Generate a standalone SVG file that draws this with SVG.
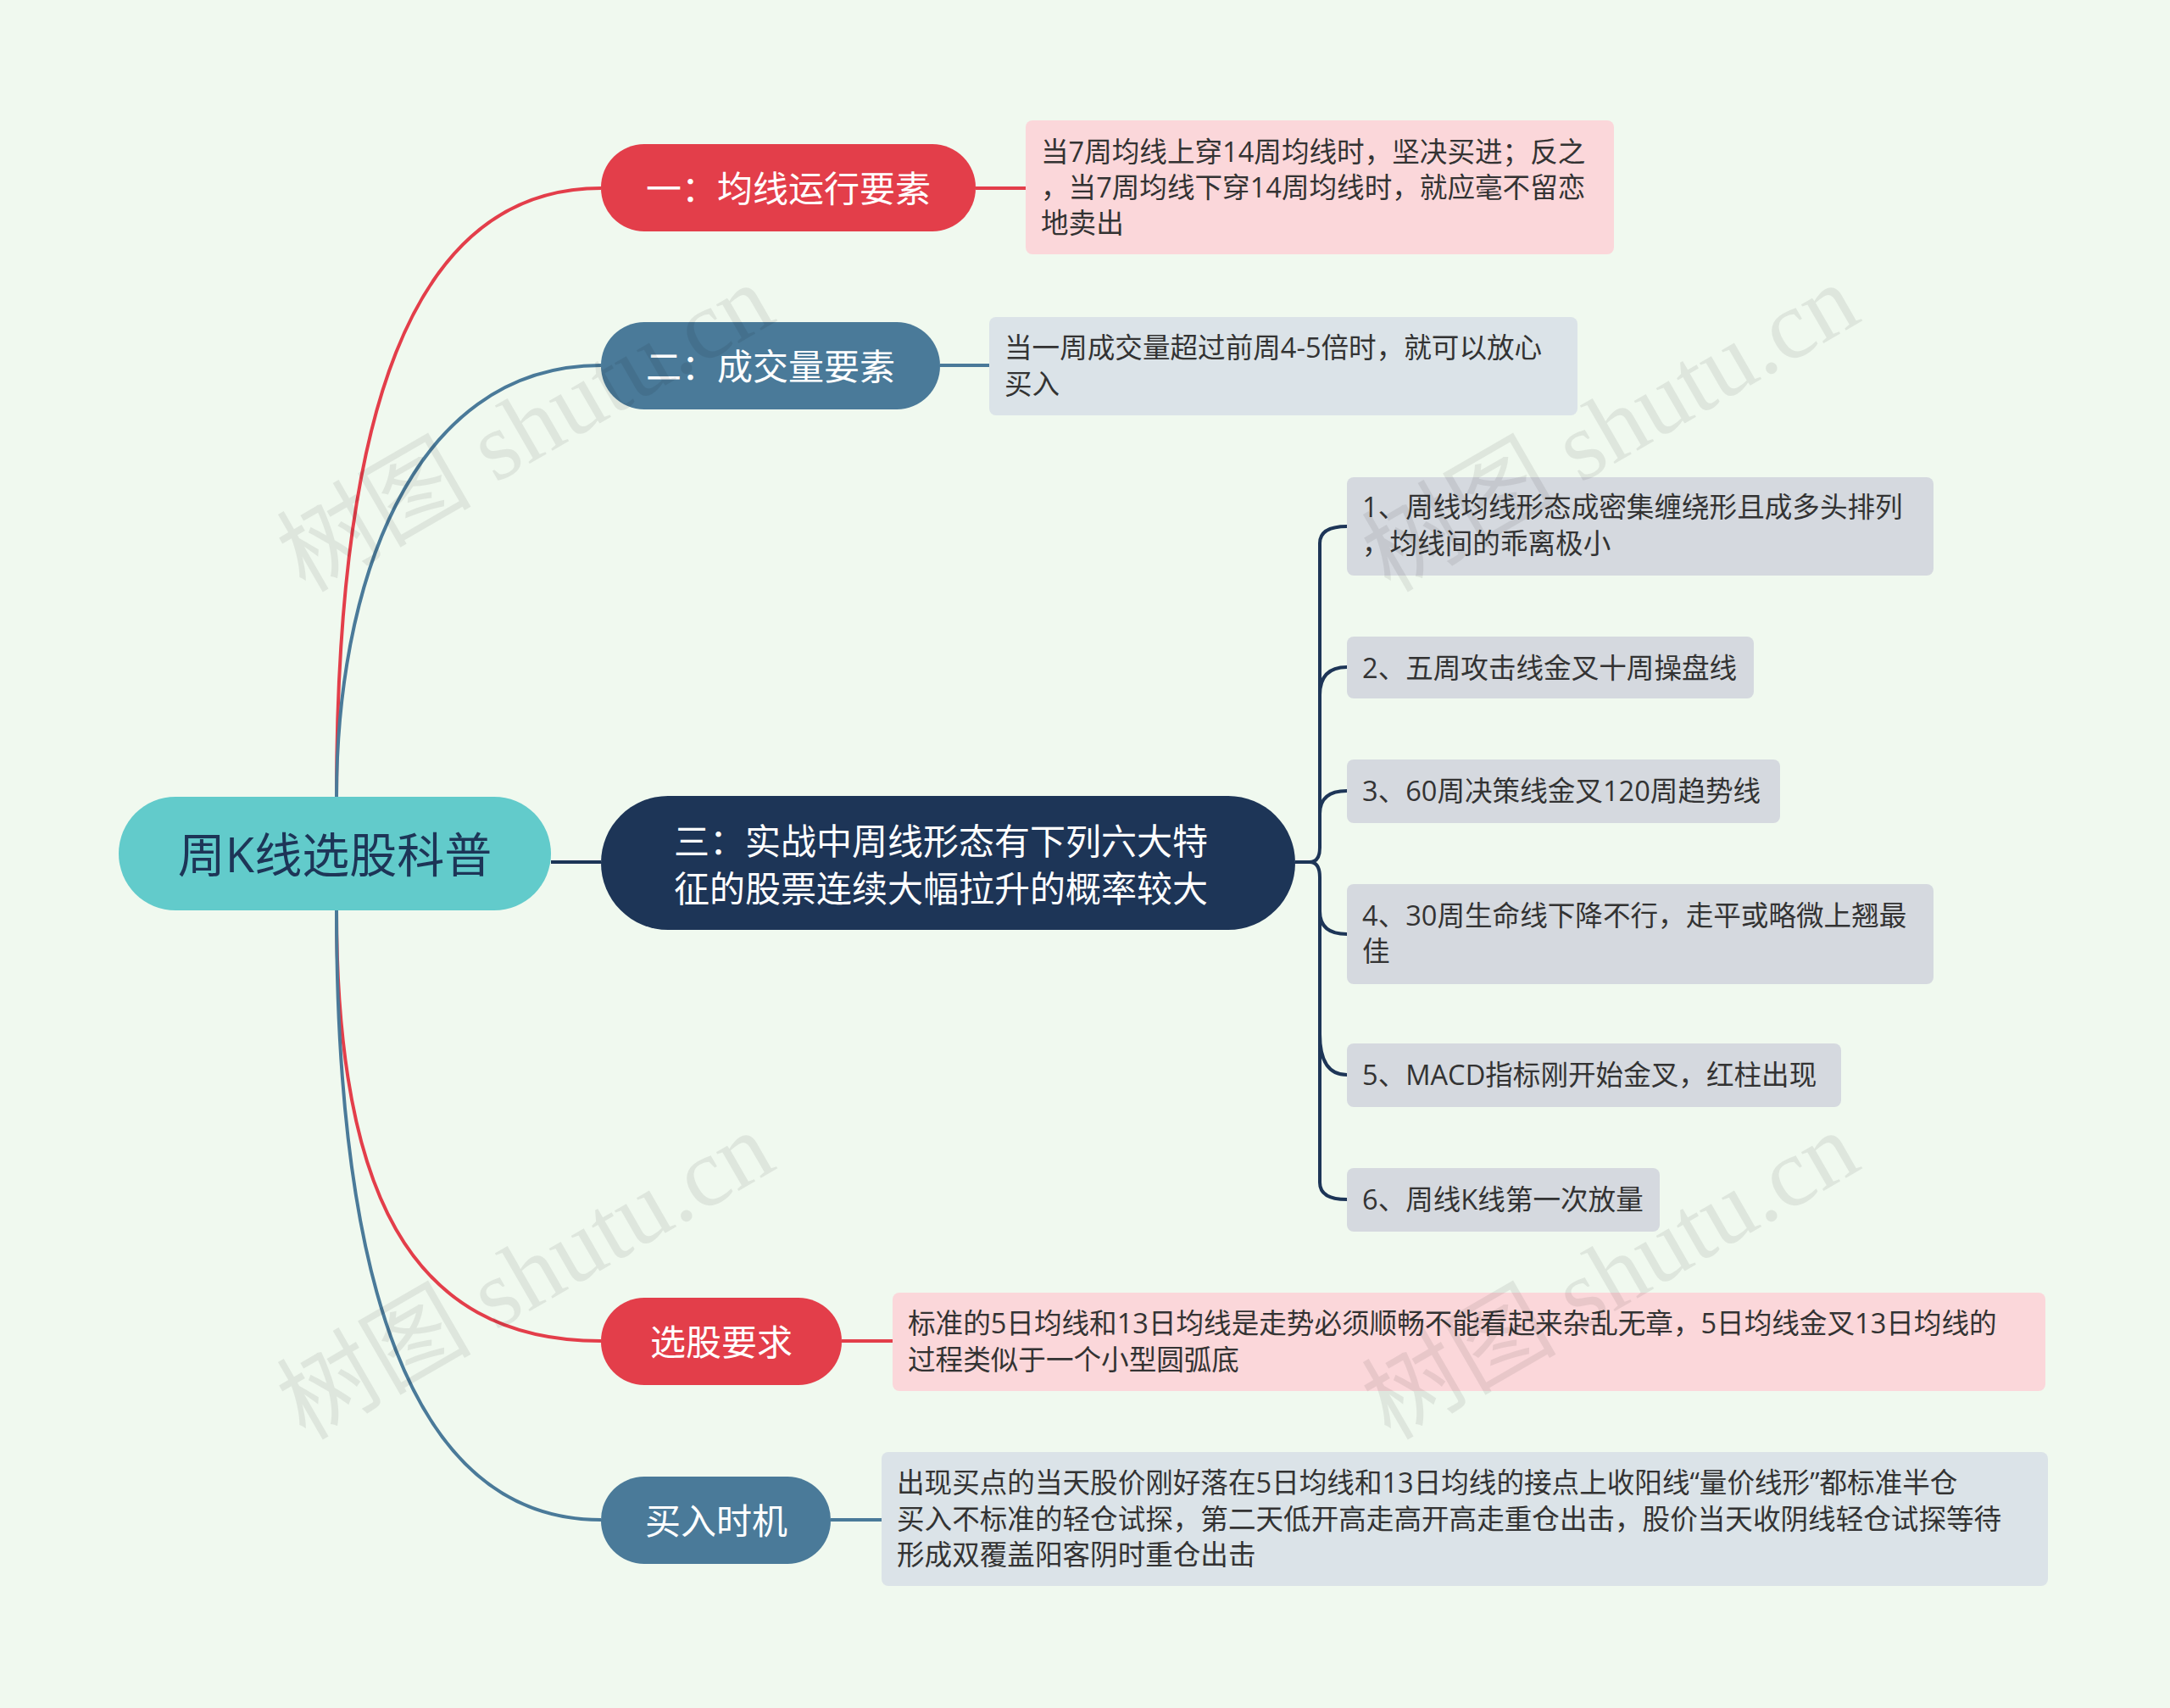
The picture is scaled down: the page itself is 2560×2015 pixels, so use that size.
<svg xmlns="http://www.w3.org/2000/svg" width="2560" height="2015" viewBox="0 0 2560 2015">
<style>
text{font-family:"Open Sans","Noto Sans CJK SC",sans-serif}
.b{font-size:42px;fill:#fff;text-anchor:middle;dominant-baseline:central}
.l{font-size:32.6px;fill:#333}
.wm{font-family:"Liberation Serif","Noto Sans CJK SC",serif;font-size:115px;fill:#000;opacity:0.07}
.c{fill:none;stroke-width:4}
</style>
<rect width="2560" height="2015" fill="#f0f9ef"/>
<g id="connectors">
<path class="c" stroke="#e33e4a" d="M397 940 C397 500 480 222 709 222"/>
<path class="c" stroke="#4a7a99" d="M397 940 C397 700 480 431 709 431"/>
<path class="c" stroke="#1d3557" d="M650 1017 H709"/>
<path class="c" stroke="#e33e4a" d="M397 1074 C397 1400 480 1582 709 1582"/>
<path class="c" stroke="#4a7a99" d="M397 1074 C397 1500 480 1793 709 1793"/>
<path class="c" stroke="#e33e4a" d="M1151 222 H1210"/>
<path class="c" stroke="#4a7a99" d="M1109 431 H1167"/>
<path class="c" stroke="#e33e4a" d="M993 1582 H1053"/>
<path class="c" stroke="#4a7a99" d="M980 1793 H1040"/>
<g class="c" stroke="#1d3557">
<path d="M1528 1017 H1545 Q1557 1017 1557 1000 V641 Q1557 621 1589 621"/>
<path d="M1557 820 Q1557 787 1589 787"/>
<path d="M1557 960 Q1557 933 1589 933"/>
<path d="M1545 1017 Q1557 1017 1557 1035 V1395 Q1557 1415 1589 1415"/>
<path d="M1557 1075 Q1557 1102 1589 1102"/>
<path d="M1557 1220 Q1557 1268 1589 1268"/>
</g>
</g>
<g id="root"><rect x="140" y="940" width="510" height="134" rx="67" fill="#62cbcb"/><text x="395" y="1007" font-size="56" fill="#1d3557" text-anchor="middle" dominant-baseline="central">周K线选股科普</text></g>
<g id="b1"><rect x="709" y="170" width="442" height="103" rx="51" fill="#e33e4a"/><text class="b" x="930" y="221">一：均线运行要素</text></g>
<g id="l1"><rect x="1210" y="142" width="694" height="158" rx="8" fill="#fbd7da"/><text class="l" x="1228" y="191">当7周均线上穿14周均线时，坚决买进；反之</text><text class="l" x="1228" y="233">，当7周均线下穿14周均线时，就应毫不留恋</text><text class="l" x="1228" y="275">地卖出</text></g>
<g id="b2"><rect x="709" y="380" width="400" height="103" rx="51" fill="#4a7a99"/><text class="b" x="909" y="431">二：成交量要素</text></g>
<g id="l2"><rect x="1167" y="374" width="694" height="116" rx="8" fill="#dbe3e8"/><text class="l" x="1185" y="422">当一周成交量超过前周4-5倍时，就可以放心</text><text class="l" x="1185" y="465">买入</text></g>
<g id="b3"><rect x="709" y="939" width="819" height="158" rx="79" fill="#1d3557"/><text class="b" x="1110" y="991">三：实战中周线形态有下列六大特</text><text class="b" x="1110" y="1047">征的股票连续大幅拉升的概率较大</text></g>
<g id="s1"><rect x="1589" y="563" width="692" height="116" rx="8" fill="#d5d9df"/><text class="l" x="1607" y="610">1、周线均线形态成密集缠绕形且成多头排列</text><text class="l" x="1607" y="653">，均线间的乖离极小</text></g>
<g id="s2"><rect x="1589" y="751" width="480" height="73" rx="8" fill="#d5d9df"/><text class="l" x="1607" y="800">2、五周攻击线金叉十周操盘线</text></g>
<g id="s3"><rect x="1589" y="896" width="511" height="75" rx="8" fill="#d5d9df"/><text class="l" x="1607" y="945">3、60周决策线金叉120周趋势线</text></g>
<g id="s4"><rect x="1589" y="1043" width="692" height="118" rx="8" fill="#d5d9df"/><text class="l" x="1607" y="1092">4、30周生命线下降不行，走平或略微上翘最</text><text class="l" x="1607" y="1134">佳</text></g>
<g id="s5"><rect x="1589" y="1231" width="583" height="75" rx="8" fill="#d5d9df"/><text class="l" x="1607" y="1280">5、MACD指标刚开始金叉，红柱出现</text></g>
<g id="s6"><rect x="1589" y="1378" width="369" height="75" rx="8" fill="#d5d9df"/><text class="l" x="1607" y="1427">6、周线K线第一次放量</text></g>
<g id="b4"><rect x="709" y="1531" width="284" height="103" rx="51" fill="#e33e4a"/><text class="b" x="851" y="1582">选股要求</text></g>
<g id="l4"><rect x="1053" y="1525" width="1360" height="116" rx="8" fill="#fbd7da"/><text class="l" x="1071" y="1573">标准的5日均线和13日均线是走势必须顺畅不能看起来杂乱无章，5日均线金叉13日均线的</text><text class="l" x="1071" y="1616">过程类似于一个小型圆弧底</text></g>
<g id="b5"><rect x="709" y="1742" width="271" height="103" rx="51" fill="#4a7a99"/><text class="b" x="845" y="1793">买入时机</text></g>
<g id="l5"><rect x="1040" y="1713" width="1376" height="158" rx="8" fill="#dbe3e8"/><text class="l" x="1058" y="1761">出现买点的当天股价刚好落在5日均线和13日均线的接点上收阳线“量价线形”都标准半仓</text><text class="l" x="1058" y="1804">买入不标准的轻仓试探，第二天低开高走高开高走重仓出击，股价当天收阴线轻仓试探等待</text><text class="l" x="1058" y="1846">形成双覆盖阳客阴时重仓出击</text></g>
<g id="watermark">
<text class="wm" transform="translate(360 700) rotate(-30)">树图 shutu.cn</text>
<text class="wm" transform="translate(1640 700) rotate(-30)">树图 shutu.cn</text>
<text class="wm" transform="translate(360 1700) rotate(-30)">树图 shutu.cn</text>
<text class="wm" transform="translate(1640 1700) rotate(-30)">树图 shutu.cn</text>
</g>
</svg>
